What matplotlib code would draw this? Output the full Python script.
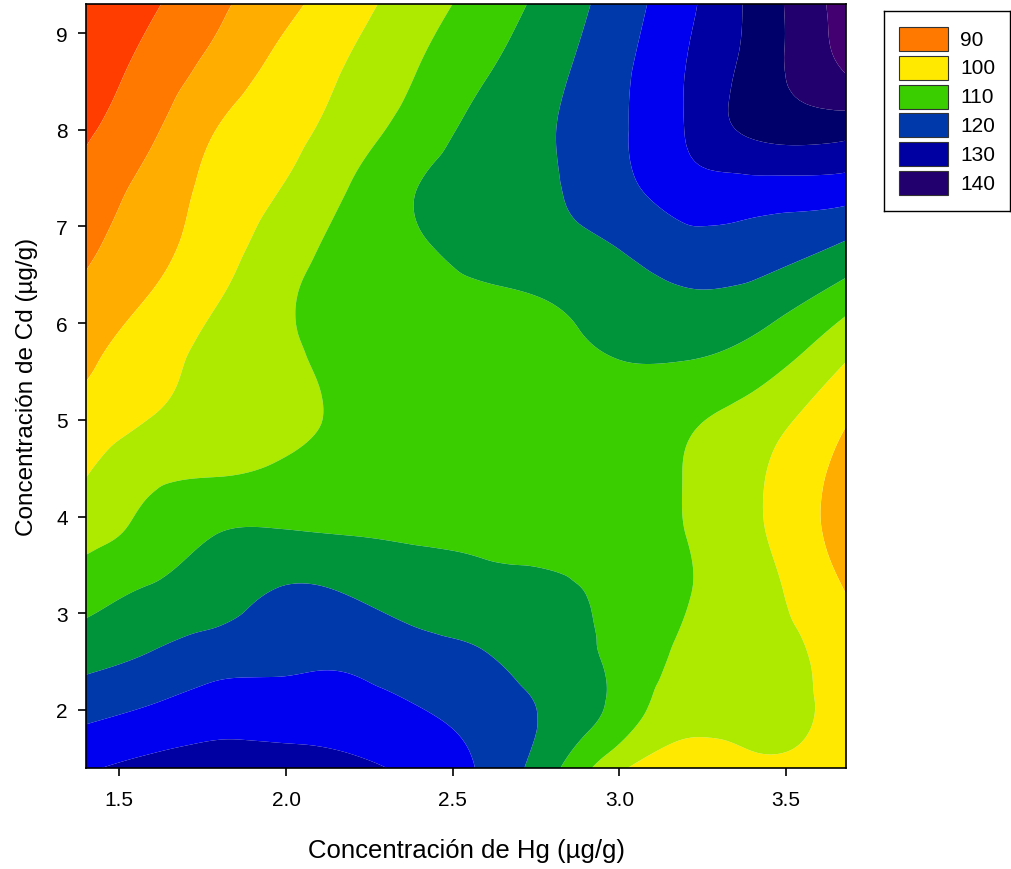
import numpy as np
import matplotlib
matplotlib.use("Agg")
import matplotlib.pyplot as plt
import matplotlib.tri as mtri
from matplotlib.patches import Rectangle

plt.rcParams['font.family'] = ['Liberation Sans', 'DejaVu Sans']

# Grid of Hg (x) and Cd (y) concentrations
hg = [1.4, 1.6, 1.8, 2.0, 2.2, 2.4, 2.6, 2.8, 3.0, 3.2, 3.4, 3.68]
cd = [1.4, 2.0, 2.6, 3.2, 3.8, 4.4, 5.0, 5.6, 6.2, 6.8, 7.4, 8.0, 8.6, 9.3]

# Response surface values, one row per Cd value (bottom to top)
z_cd_1_4 = [124.5, 126.5, 127.3, 127.3, 126.0, 123.7, 119.0, 111.2, 101.0, 97.0, 98.5, 97.0]
z_cd_2_0 = [118.5, 120.6, 122.5, 122.3, 122.0, 120.2, 117.7, 114.0, 108.2, 102.0, 102.0, 97.5]
z_cd_2_6 = [112.9, 115.1, 117.4, 118.8, 118.7, 116.5, 115.0, 112.0, 108.7, 104.0, 101.9, 97.5]
z_cd_3_2 = [108.0, 110.8, 112.8, 115.7, 114.7, 112.8, 111.9, 110.8, 108.7, 105.3, 101.8, 95.0]
z_cd_3_8 = [103.7, 106.8, 110.2, 110.6, 110.0, 109.5, 109.0, 108.5, 107.5, 105.0, 101.0, 92.5]
z_cd_4_4 = [100.0, 104.2, 105.1, 106.2, 107.0, 107.5, 108.0, 108.0, 107.5, 104.8, 100.9, 93.0]
z_cd_5_0 = [97.0, 100.2, 101.9, 103.7, 106.0, 107.5, 108.0, 108.0, 107.8, 105.8, 102.8, 95.4]
z_cd_5_6 = [94.1, 98.3, 101.5, 104.0, 106.5, 107.5, 108.5, 108.8, 109.9, 109.9, 107.7, 100.0]
z_cd_6_2 = [91.5, 95.7, 100.1, 104.5, 107.0, 108.5, 109.3, 110.0, 112.5, 114.1, 112.8, 106.5]
z_cd_6_8 = [89.0, 93.4, 97.8, 102.9, 106.8, 109.6, 111.5, 113.4, 115.2, 118.0, 118.0, 114.3]
z_cd_7_4 = [86.7, 91.9, 96.6, 100.3, 105.4, 110.1, 112.3, 114.6, 118.3, 123.0, 123.2, 122.7]
z_cd_8_0 = [84.3, 89.3, 95.25, 98.6, 102.6, 107.5, 111.65, 114.8, 119.3, 125.2, 131.0, 131.8]
z_cd_8_6 = [82.2, 87.0, 92.1, 96.8, 100.7, 105.2, 109.7, 113.8, 118.9, 125.1, 131.9, 140.2]
z_cd_9_3 = [79.7, 84.4, 89.1, 93.75, 98.3, 102.8, 107.2, 111.9, 117.5, 123.8, 131.2, 142.1]

levels = [70, 85, 90, 95, 100, 105, 110, 115, 120, 125, 130, 135, 140, 150]
band_colors = ['#FF3D00', '#FF7800', '#FFAE00', '#FFE900', '#AEE900', '#3ACE00',
               '#00943A', '#003AAA', '#0000F0', '#0000A2', '#00006A', '#22006E', '#420070']

legend_labels = ['90', '100', '110', '120', '130', '140']
legend_colors = ['#FF7800', '#FFE900', '#3ACE00', '#003AAA', '#0000A2', '#22006E']

Z = np.array([z_cd_1_4, z_cd_2_0, z_cd_2_6, z_cd_3_2, z_cd_3_8, z_cd_4_4, z_cd_5_0,
              z_cd_5_6, z_cd_6_2, z_cd_6_8, z_cd_7_4, z_cd_8_0, z_cd_8_6, z_cd_9_3])
X, Y = np.meshgrid(hg, cd)

fig = plt.figure(figsize=(10.11, 8.70), dpi=100)
ax = fig.add_axes([86/1011, 1-769/870, 760/1011, 764/870])

tri = mtri.Triangulation(X.ravel(), Y.ravel())
refiner = mtri.UniformTriRefiner(tri)
tri_f, z_f = refiner.refine_field(Z.ravel(), subdiv=4)
ax.tricontourf(tri_f, z_f, levels=levels, colors=band_colors, antialiased=True)

ax.set_xlim(1.4, 3.68)
ax.set_ylim(1.4, 9.3)
ax.set_xticks([1.5, 2.0, 2.5, 3.0, 3.5])
ax.set_xticklabels(['1.5', '2.0', '2.5', '3.0', '3.5'])
ax.set_yticks([2, 3, 4, 5, 6, 7, 8, 9])
ax.tick_params(direction='out', length=6, width=1.2, labelsize=15)
ax.tick_params(axis='x', pad=10)
ax.tick_params(axis='y', pad=7)
for s in ax.spines.values():
    s.set_linewidth(1.2)
ax.set_xlabel('Concentración de Hg (µg/g)', fontsize=18.5, labelpad=21)
ax.set_ylabel('Concentración de Cd (µg/g)', fontsize=17.5, labelpad=13)

# Legend box
lax = fig.add_axes([884/1011, 1-212/870, 126/1011, 200/870])
lax.set_xlim(884, 1010)
lax.set_ylim(212, 12)
lax.set_xticks([])
lax.set_yticks([])
for s in lax.spines.values():
    s.set_linewidth(1.0)
for i, (lab, col) in enumerate(zip(legend_labels, legend_colors)):
    top = 28 + i * 28.8
    lax.add_patch(Rectangle((899, top), 49, 24, facecolor=col, edgecolor='#333333', linewidth=0.8))
    lax.text(960, top + 12, lab, fontsize=15, va='center', ha='left')

fig.savefig('out.png', dpi=100)
